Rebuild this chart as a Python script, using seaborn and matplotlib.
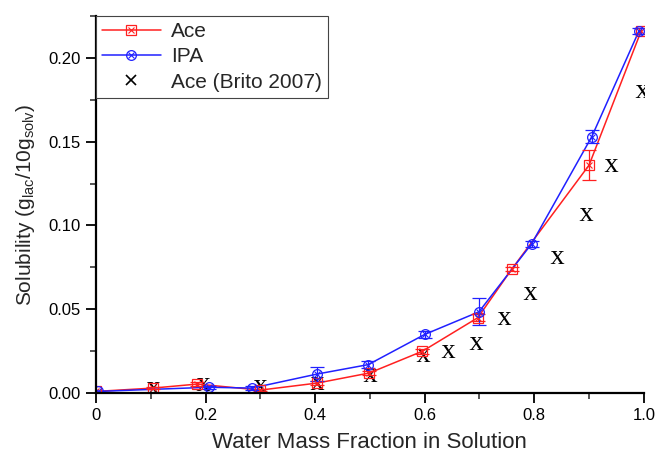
import numpy as np
import pandas as pd
import matplotlib
matplotlib.use("Agg")
import matplotlib.pyplot as plt
import seaborn as sns
from matplotlib.legend_handler import HandlerTuple
from matplotlib.lines import Line2D

# values
ace_x = [0.0, 0.104, 0.185, 0.30, 0.404, 0.499, 0.596, 0.697, 0.759, 0.90, 0.995]
ace_y = [0.001, 0.003, 0.0054, 0.0018, 0.006, 0.012, 0.025, 0.045, 0.074, 0.136, 0.216]
ace_err = [0.0005, 0.0008, 0.001, 0.0008, 0.001, 0.001, 0.0015, 0.002, 0.001, 0.009, 0.002]

ipa_x = [0.003, 0.206, 0.285, 0.404, 0.497, 0.60, 0.699, 0.795, 0.905, 0.991]
ipa_y = [0.001, 0.0035, 0.003, 0.0114, 0.017, 0.035, 0.0485, 0.089, 0.153, 0.216]
ipa_err = [0.0005, 0.001, 0.001, 0.004, 0.002, 0.002, 0.008, 0.002, 0.004, 0.002]

brito_x = [0.104, 0.195, 0.299, 0.404, 0.50, 0.597, 0.642, 0.693, 0.745, 0.793, 0.841, 0.894, 0.94, 0.996]
brito_y = [0.003, 0.0054, 0.004, 0.006, 0.011, 0.0228, 0.025, 0.030, 0.045, 0.060, 0.081, 0.107, 0.136, 0.180]

ace = pd.DataFrame({"x": ace_x, "y": ace_y, "err": ace_err})
ipa = pd.DataFrame({"x": ipa_x, "y": ipa_y, "err": ipa_err})
brito = pd.DataFrame({"x": brito_x, "y": brito_y})

sns.set_style("ticks")
plt.rcParams["font.family"] = ["Liberation Sans", "DejaVu Sans"]
plt.rcParams["mathtext.fontset"] = "custom"
plt.rcParams["mathtext.rm"] = "Liberation Sans"
plt.rcParams["mathtext.it"] = "Liberation Sans"
plt.rcParams["mathtext.sf"] = "Liberation Serif"  # used for the serif 'x' marker

fig = plt.figure(figsize=(6.57, 4.55), dpi=100)
ax = fig.add_axes([0.146, 0.136, 0.834, 0.829])

red = "#ff2020"
blue = "#2020ff"

sns.lineplot(data=ace, x="x", y="y", ax=ax, color=red, lw=1.1, sort=True)
sns.lineplot(data=ipa, x="x", y="y", ax=ax, color=blue, lw=1.1, sort=True)

ax.errorbar(ace["x"], ace["y"], yerr=ace["err"], fmt="none", ecolor=red, elinewidth=0.9, capsize=5, capthick=0.9)
ax.errorbar(ipa["x"], ipa["y"], yerr=ipa["err"], fmt="none", ecolor=blue, elinewidth=0.9, capsize=5, capthick=0.9)

ax.plot(ace["x"], ace["y"], ls="none", marker="s", ms=7, mfc="none", mec=red, mew=0.9)
ax.plot(ace["x"], ace["y"], ls="none", marker="x", ms=5, mec=red, mew=0.8)
ax.plot(ipa["x"], ipa["y"], ls="none", marker="o", ms=7, mfc="none", mec=blue, mew=0.9)
ax.plot(ipa["x"], ipa["y"], ls="none", marker="x", ms=5, mec=blue, mew=0.8)

xmark = r"$\mathsf{x}$"
ax.scatter(brito["x"], brito["y"], marker=xmark, s=95, color="black", linewidths=0)

ax.set_xlim(0, 1.0)
ax.set_ylim(0, 0.225)
ax.set_xticks([0, 0.2, 0.4, 0.6, 0.8, 1.0])
ax.set_xticklabels(["0", "0.2", "0.4", "0.6", "0.8", "1.0"])
ax.set_xticks(np.arange(0.1, 1.0, 0.2), minor=True)
ax.set_yticks([0, 0.05, 0.10, 0.15, 0.20])
ax.set_yticklabels(["0.00", "0.05", "0.10", "0.15", "0.20"])
ax.set_yticks([0.025, 0.075, 0.125, 0.175, 0.225], minor=True)
ax.tick_params(which="major", direction="out", length=7, width=1.3, labelsize=12, colors="black", pad=4)
ax.tick_params(which="minor", direction="out", length=4, width=1.1)

sns.despine(ax=ax)
for s in ["left", "bottom"]:
    ax.spines[s].set_linewidth(1.6)
    ax.spines[s].set_color("black")

ax.set_xlabel("Water Mass Fraction in Solution", fontsize=16, labelpad=6)
ax.set_ylabel(r"Solubility (g$_{\mathrm{lac}}$/10g$_{\mathrm{solv}}$)", fontsize=15, labelpad=8)

h_ace = (Line2D([], [], color=red, lw=1.1, marker="s", ms=7, mfc="none", mec=red, mew=0.9),
         Line2D([], [], ls="none", marker="x", ms=5, mec=red, mew=0.8))
h_ipa = (Line2D([], [], color=blue, lw=1.1, marker="o", ms=7, mfc="none", mec=blue, mew=0.9),
         Line2D([], [], ls="none", marker="x", ms=5, mec=blue, mew=0.8))
h_brito = Line2D([], [], ls="none", marker="x", ms=7, color="black", mew=1.2)

leg = ax.legend([h_ace, h_ipa, h_brito], ["Ace", "IPA", "Ace (Brito 2007)"],
                handler_map={tuple: HandlerTuple(ndivide=1)},
                loc="upper left", bbox_to_anchor=(0.0, 1.0), borderaxespad=0, fontsize=15,
                fancybox=False, framealpha=1, edgecolor="#444444",
                handlelength=2.8, borderpad=0.3, labelspacing=0.3, handletextpad=0.5)
leg.get_frame().set_linewidth(0.8)

fig.savefig("out.png", dpi=100)
